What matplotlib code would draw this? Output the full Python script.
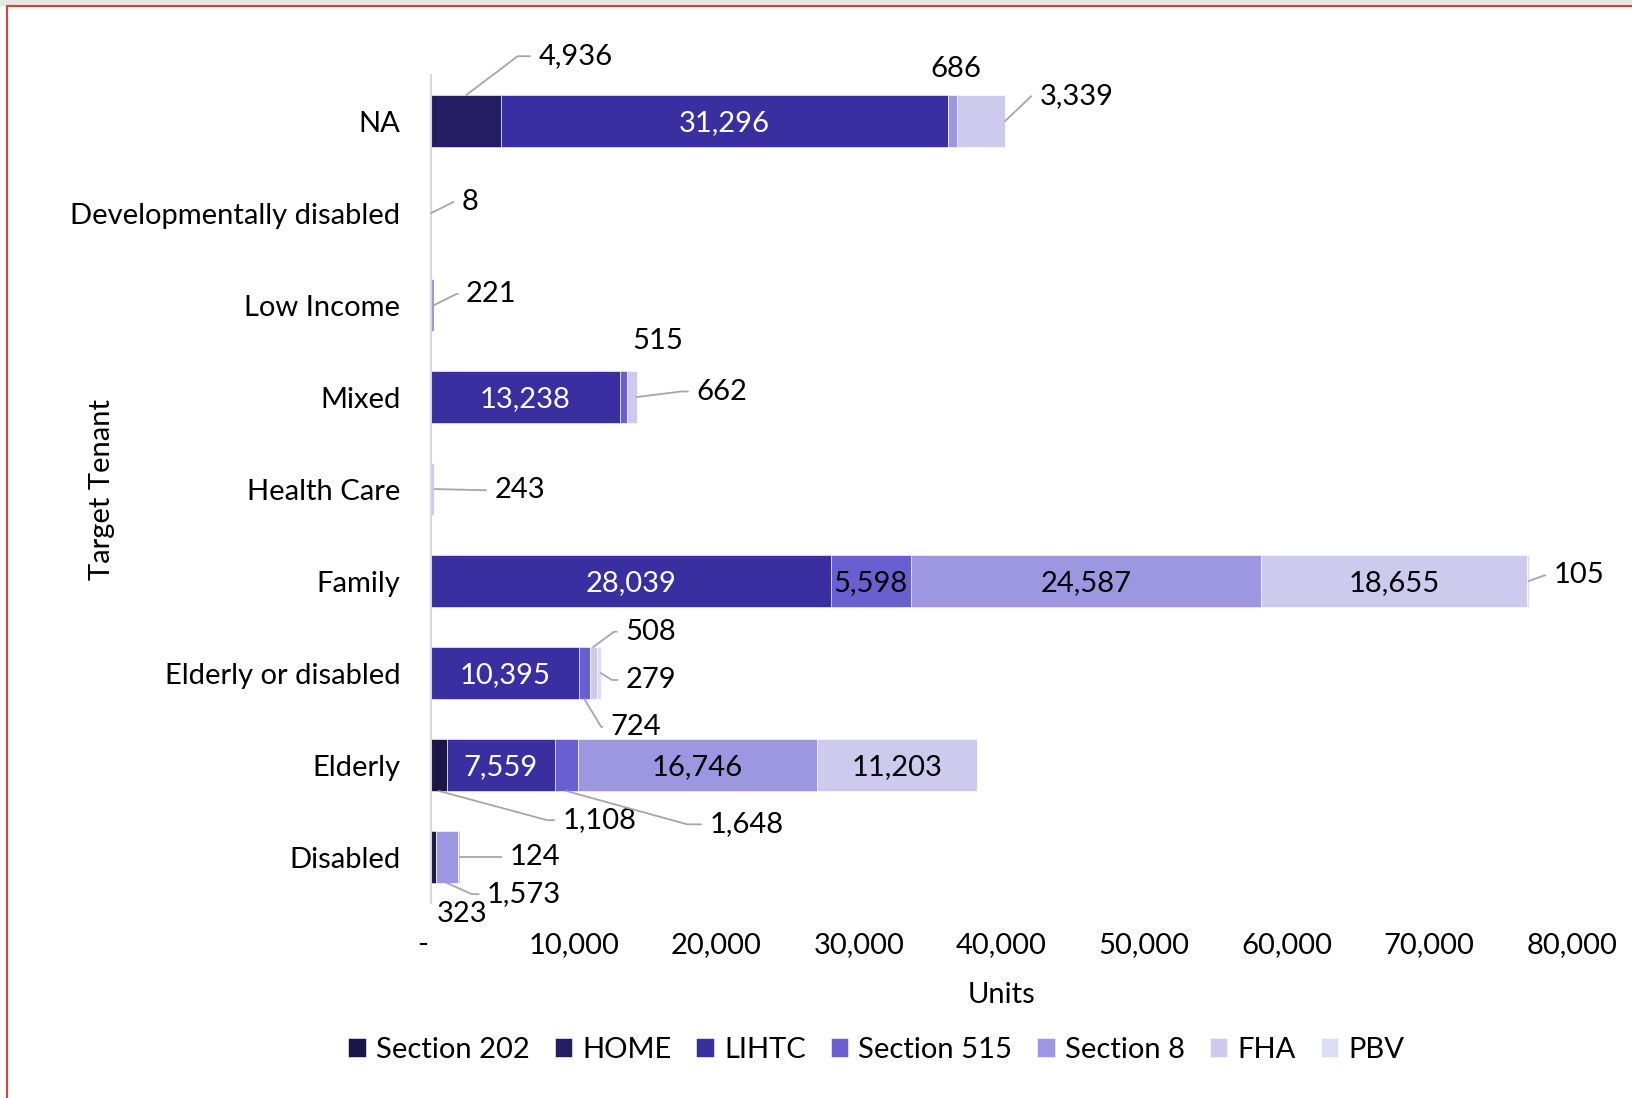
import math
import matplotlib.pyplot as plt
from matplotlib.patches import Rectangle
from matplotlib.ticker import FuncFormatter

plt.rcParams['font.family'] = ['Lato', 'DejaVu Sans']
FS = 21

# categories bottom -> top
tenants = ['Disabled', 'Elderly', 'Elderly or disabled', 'Family', 'Health Care',
           'Mixed', 'Low Income', 'Developmentally disabled', 'NA']
programs = ['Section 202', 'HOME', 'LIHTC', 'Section 515', 'Section 8', 'FHA', 'PBV']

section_202 = [323, 1108, 0, 0, 0, 0, 0, 0, 0]
home = [0, 0, 0, 0, 0, 0, 0, 0, 4936]
lihtc = [0, 7559, 10395, 28039, 0, 13238, 0, 0, 31296]
section_515 = [0, 1648, 724, 5598, 0, 515, 0, 0, 0]
section_8 = [1573, 16746, 0, 24587, 0, 0, 221, 0, 686]
fha = [124, 11203, 508, 18655, 243, 662, 0, 8, 3339]
pbv = [0, 0, 279, 105, 0, 0, 0, 0, 0]

series = [section_202, home, lihtc, section_515, section_8, fha, pbv]
colors = ['#1b1646', '#241d63', '#3a2fa0', '#6a5fd1', '#9d96e0', '#cdcaee', '#dedcf5']

# label styles: inside labels (text colour) and callouts (anchor, dx, dy, shoulder) in points
inside = {
    ('NA', 'LIHTC'): 'white', ('Mixed', 'LIHTC'): 'white',
    ('Family', 'LIHTC'): 'white', ('Family', 'Section 515'): 'black',
    ('Family', 'Section 8'): 'black', ('Family', 'FHA'): 'black',
    ('Elderly or disabled', 'LIHTC'): 'white',
    ('Elderly', 'LIHTC'): 'white', ('Elderly', 'Section 8'): 'black',
    ('Elderly', 'FHA'): 'black',
}
callouts = {
    ('NA', 'HOME'): ('top', 52, 28, 15),
    ('NA', 'FHA'): ('end', 25, 18, 6),
    ('Developmentally disabled', 'FHA'): ('end', 22, 8, 6),
    ('Low Income', 'Section 8'): ('end', 23, 8, 7),
    ('Mixed', 'FHA'): ('end', 43, 4, 11),
    ('Health Care', 'FHA'): ('end', 43, -1, 0),
    ('Family', 'PBV'): ('end', 18, 4, 7),
    ('Elderly or disabled', 'FHA'): ('top', 23, 11, 8),
    ('Elderly or disabled', 'PBV'): ('end', 18, -5, 10),
    ('Elderly or disabled', 'Section 515'): ('bottom', 19, -20, 7),
    ('Elderly', 'Section 202'): ('bottom', 89, -21, 11),
    ('Elderly', 'Section 515'): ('bottom', 103, -24, 16),
    ('Disabled', 'Section 8'): ('bottom', 29, -8, 11),
    ('Disabled', 'FHA'): ('end', 36, 0, 0),
}
floating = {
    ('NA', 'Section 8'): ('top', 2, 19),
    ('Mixed', 'Section 515'): ('top', 25, 22),
    ('Disabled', 'Section 202'): ('bottom', 21, -22),
}

fig = plt.figure(figsize=(16.32, 10.98), dpi=100)
ax = fig.add_axes([0.2641, 0.1776, 0.699, 0.754])

bar_h = 0.565
lefts = [0] * len(tenants)
segments = {}
for name, vals, col in zip(programs, series, colors):
    ax.barh(range(len(tenants)), vals, left=lefts, height=bar_h, color=col,
            edgecolor='white', linewidth=0.4, label=name)
    for i, v in enumerate(vals):
        segments[(tenants[i], name)] = (lefts[i], v, i)
    lefts = [l + v for l, v in zip(lefts, vals)]


def anchor(key, where):
    left, v, i = segments[key]
    if where == 'top':
        return left + v / 2, i + bar_h / 2
    if where == 'bottom':
        return left + v / 2, i - bar_h / 2
    return left + v, i


for key, col in inside.items():
    left, v, i = segments[key]
    ax.text(left + v / 2, i - 0.02, f'{v:,}', ha='center', va='center', color=col, fontsize=FS)

for key, (where, dx, dy, sh) in callouts.items():
    v = segments[key][1]
    if sh == 0:
        cs = 'arc3,rad=0'
    else:
        ang = math.degrees(math.atan2(dy, dx - sh))
        cs = f'angle,angleA=0,angleB={ang},rad=0'
    ax.annotate(f'{v:,}', xy=anchor(key, where), xytext=(dx, dy),
                textcoords='offset points', ha='left', va='center', fontsize=FS,
                arrowprops=dict(arrowstyle='-', color='#a6a6a6', lw=1.3,
                                shrinkA=4, shrinkB=0, relpos=(0, 0.5),
                                connectionstyle=cs))

for key, (where, dx, dy) in floating.items():
    v = segments[key][1]
    ax.annotate(f'{v:,}', xy=anchor(key, where), xytext=(dx, dy),
                textcoords='offset points', ha='center', va='center', fontsize=FS)

ax.set_xlim(0, 80000)
ax.set_ylim(-0.5, len(tenants) - 0.5)
ax.set_yticks(range(len(tenants)))
ax.set_yticklabels(tenants)
ax.set_xticks(range(0, 80001, 10000))
ax.xaxis.set_major_formatter(FuncFormatter(lambda x, p: '-  ' if x == 0 else f'{int(x):,}'))
ax.tick_params(axis='both', length=0, labelsize=FS)
ax.tick_params(axis='x', pad=21)
ax.tick_params(axis='y', pad=22)
for s in ['top', 'right', 'bottom']:
    ax.spines[s].set_visible(False)
ax.spines['left'].set_color('#d9d9d9')
ax.spines['left'].set_linewidth(1.5)

ax.set_xlabel('Units', fontsize=FS, va='center')
ax.xaxis.set_label_coords(0.5, -0.111)
ax.set_ylabel('Target Tenant', fontsize=FS, ha='center', va='center')
ax.yaxis.set_label_coords(-0.2883, 0.5)

fig.legend(loc='center', bbox_to_anchor=(0.537, 0.044), ncol=7, frameon=False,
           fontsize=FS, handlelength=0.6, handleheight=0.6, handletextpad=0.35,
           columnspacing=0.85)

# page frame
fig.patches.append(Rectangle((0, 1 - 6 / 1098), 1, 6 / 1098, transform=fig.transFigure,
                             facecolor='#e7e6e6', edgecolor='none'))
fig.patches.append(Rectangle((7 / 1632, -0.01), 1, 1 - 6 / 1098 + 0.01, transform=fig.transFigure,
                             fill=False, edgecolor='#e03c3c', linewidth=1.5))

fig.savefig('out.png', dpi=100)
